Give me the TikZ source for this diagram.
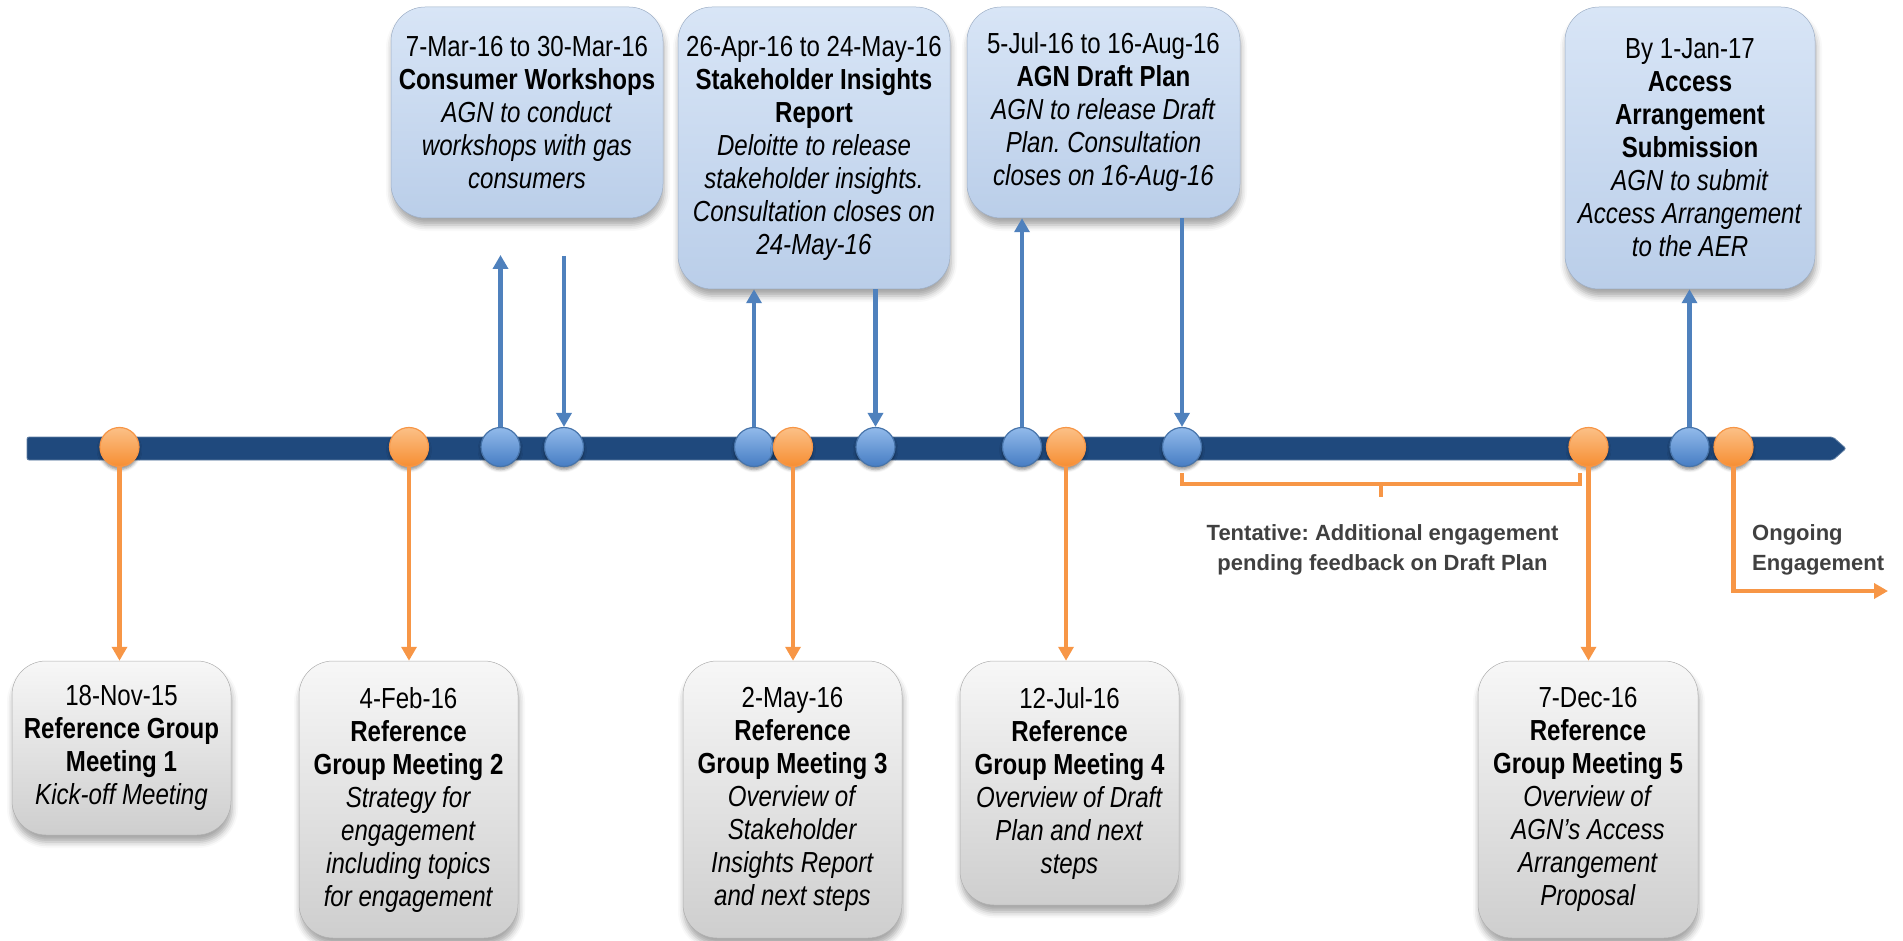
\documentclass[tikz,border=0pt]{standalone}
\usepackage{fontspec}
\setmainfont{Liberation Sans}
\newfontfamily\narrowsans[FakeStretch=0.83]{Liberation Sans}
\usetikzlibrary{arrows.meta,shadows.blur}
\frenchspacing

\definecolor{timelineblue}{RGB}{31,73,125}
\definecolor{linkblue}{RGB}{79,129,189}
\definecolor{linkorange}{RGB}{247,150,70}
\definecolor{notegray}{RGB}{64,64,64}
\definecolor{phasetop}{RGB}{216,229,246}
\definecolor{phasebot}{RGB}{186,206,233}
\definecolor{meettop}{RGB}{247,247,247}
\definecolor{meetbot}{RGB}{206,206,206}
\definecolor{bluedottop}{RGB}{146,186,235}
\definecolor{bluedotbot}{RGB}{70,125,195}
\definecolor{orangedottop}{RGB}{251,192,135}
\definecolor{orangedotbot}{RGB}{247,142,50}

\tikzset{
  boxtext/.style={font=\narrowsans\fontsize{29}{33}\selectfont, align=center, inner sep=0pt},
  boxshadow/.style={blur shadow={shadow xshift=1pt, shadow yshift=-7pt, shadow blur radius=6pt, shadow opacity=35}},
  phasebox/.style={boxtext, boxshadow, rounded corners=34pt, top color=phasetop, bottom color=phasebot,
    draw=phasebot!85!black, line width=0.5pt},
  meetbox/.style={boxtext, boxshadow, rounded corners=34pt, top color=meettop, bottom color=meetbot,
    draw=meetbot!85!black, line width=0.5pt},
  dotshadow/.style={blur shadow={shadow xshift=0pt, shadow yshift=-3pt, shadow blur radius=3pt, shadow opacity=45}},
  bluedot/.style={circle, minimum size=39pt, inner sep=0pt, dotshadow,
    top color=bluedottop, bottom color=bluedotbot, draw=linkblue!90!black, line width=1.2pt},
  orangedot/.style={circle, minimum size=39pt, inner sep=0pt, dotshadow,
    top color=orangedottop, bottom color=orangedotbot, draw=linkorange, line width=1.2pt},
  bluelink/.style={draw=linkblue, line width=4.3pt},
  bluearrow/.style={bluelink, -{Triangle[width=15pt,length=14pt]}},
  orangelink/.style={draw=linkorange, line width=4.3pt},
  orangearrow/.style={orangelink, -{Triangle[width=15pt,length=14pt]}},
  notetext/.style={font=\bfseries\fontsize{22}{30}\selectfont, text=notegray, inner sep=0pt}
}

\begin{document}
\begin{tikzpicture}[x=1pt, y=-1pt]
\useasboundingbox (0,0) rectangle (1903,941);

% timeline bar with arrow point
\fill[timelineblue, draw=timelineblue!70!white, line width=0.8pt, rounded corners=2pt]
  (27,437) -- (1833,437) -- (1846,448.5) -- (1833,460) -- (27,460) -- cycle;

% milestone dots on the bar
\node[orangedot] (o1) at (119.5,447) {};
\node[orangedot] (o2) at (409,447) {};
\node[bluedot]   (b1) at (500.5,447) {};
\node[bluedot]   (b2) at (564,447) {};
\node[bluedot]   (b3) at (754,447) {};
\node[orangedot] (o3) at (793,447) {};
\node[bluedot]   (b4) at (875.5,447) {};
\node[bluedot]   (b5) at (1022,447) {};
\node[orangedot] (o4) at (1066,447) {};
\node[bluedot]   (b6) at (1182,447) {};
\node[orangedot] (o5) at (1588.5,447) {};
\node[bluedot]   (b7) at (1689.5,447) {};
\node[orangedot] (o6) at (1733.5,447) {};

% consultation phases above the bar
\node[phasebox, minimum width=272pt, minimum height=211pt] (ws) at (527,112.5)
  {7-Mar-16 to 30-Mar-16\\\textbf{Consumer Workshops}\\\textit{AGN to conduct}\\
   \textit{workshops with gas}\\\textit{consumers}};
\node[phasebox, minimum width=272pt, minimum height=282pt] (sir) at (814,148)
  {26-Apr-16 to 24-May-16\\\textbf{Stakeholder Insights}\\\textbf{Report}\\
   \textit{Deloitte to release}\\\textit{stakeholder insights.}\\
   \textit{Consultation closes on}\\\textit{24-May-16}};
\node[phasebox, minimum width=273pt, minimum height=211pt] (dp) at (1103.5,112.5)
  {5-Jul-16 to 16-Aug-16\\\textbf{AGN Draft Plan}\\\textit{AGN to release Draft}\\
   \textit{Plan. Consultation}\\\textit{closes on 16-Aug-16}};
\node[phasebox, minimum width=250pt, minimum height=282pt] (aas) at (1690,148)
  {By 1-Jan-17\\\textbf{Access}\\\textbf{Arrangement}\\\textbf{Submission}\\
   \textit{AGN to submit}\\\textit{Access Arrangement}\\\textit{to the AER}};

% reference group meetings below the bar
\node[meetbox, minimum width=219pt, minimum height=174pt] (m1) at (121.5,748)
  {18-Nov-15\\\textbf{Reference Group}\\\textbf{Meeting 1}\\\textit{Kick-off Meeting}};
\node[meetbox, minimum width=219pt, minimum height=277pt] (m2) at (408.5,799.5)
  {4-Feb-16\\\textbf{Reference}\\\textbf{Group Meeting 2}\\\textit{Strategy for}\\
   \textit{engagement}\\\textit{including topics}\\\textit{for engagement}};
\node[meetbox, minimum width=219pt, minimum height=277pt] (m3) at (792.5,799.5)
  {2-May-16\\\textbf{Reference}\\\textbf{Group Meeting 3}\\\textit{Overview of}\\
   \textit{Stakeholder}\\\textit{Insights Report}\\\textit{and next steps}};
\node[meetbox, minimum width=219pt, minimum height=244pt] (m4) at (1069.5,783)
  {12-Jul-16\\\textbf{Reference}\\\textbf{Group Meeting 4}\\\textit{Overview of Draft}\\
   \textit{Plan and next}\\\textit{steps}};
\node[meetbox, minimum width=220pt, minimum height=277pt] (m5) at (1588,799.5)
  {7-Dec-16\\\textbf{Reference}\\\textbf{Group Meeting 5}\\\textit{Overview of}\\
   \textit{AGN’s Access}\\\textit{Arrangement}\\\textit{Proposal}};

% free ends of the workshop arrows
\coordinate (wsup) at (500.5,255);
\coordinate (wsdown) at (564,256);

% phase start (up) and end (down) arrows
\draw[bluearrow] (b1.north) -- (wsup);
\draw[bluearrow] (wsdown) -- (b2.north);
\draw[bluearrow] (b3.north) -- (b3.north |- sir.south);
\draw[bluearrow] (b4.north |- sir.south) -- (b4.north);
\draw[bluearrow] (b5.north) -- (b5.north |- dp.south);
\draw[bluearrow] (b6.north |- dp.south) -- (b6.north);
\draw[bluearrow] (b7.north) -- (b7.north |- aas.south);

% meeting arrows
\draw[orangearrow] (o1.south) -- (o1.south |- m1.north);
\draw[orangearrow] (o2.south) -- (o2.south |- m2.north);
\draw[orangearrow] (o3.south) -- (o3.south |- m3.north);
\draw[orangearrow] (o4.south) -- (o4.south |- m4.north);
\draw[orangearrow] (o5.south) -- (o5.south |- m5.north);

% bracket for the tentative engagement period
\coordinate (brl) at (1182,473);
\coordinate (brr) at (1580,473);
\coordinate (brmid) at (1381,484);
\coordinate (brtick) at (1381,497);
\draw[orangelink, line width=4pt, line join=miter] (brl) -- (brl |- brmid) -- (brr |- brmid) -- (brr);
\draw[orangelink, line width=4pt] (brmid) -- (brtick);

\node[notetext, align=center] (tent) at (1382.5,550)
  {Tentative: Additional engagement\\pending feedback on Draft Plan};

% ongoing engagement
\coordinate (ongoingend) at (1888,591);
\draw[orangearrow, line join=miter] (o6.south) |- (ongoingend);
\node[notetext, align=left, anchor=west] (ongoing) at (1752,550)
  {Ongoing\\Engagement};

\end{tikzpicture}
\end{document}
